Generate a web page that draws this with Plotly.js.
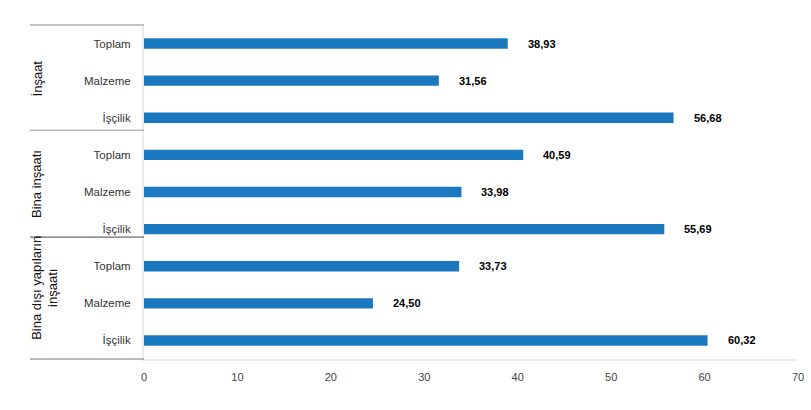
<!DOCTYPE html>
<html>
<head>
<meta charset="utf-8">
<script src="https://cdn.plot.ly/plotly-3.0.1.min.js"></script>
<style>
html,body{margin:0;padding:0;background:#fff;}
#chart{width:811px;height:410px;}
</style>
</head>
<body>
<div id="chart"></div>
<script>
// Data
const groups = ["İnşaat", "Bina inşaatı", "Bina dışı yapıların<br>inşaatı"];
const items = ["Toplam", "Malzeme", "İşçilik"];
const values = [
  [38.93, 31.56, 56.68],
  [40.59, 33.98, 55.69],
  [33.73, 24.50, 60.32]
];
const xTicks = [0, 10, 20, 30, 40, 50, 60, 70];

// Build flat arrays
const yIdx = [], xVals = [], yLabels = [];
groups.forEach((g, gi) => {
  items.forEach((it, ii) => {
    yIdx.push(gi * items.length + ii);
    xVals.push(values[gi][ii]);
    yLabels.push(it);
  });
});
const fmt = v => v.toFixed(2).replace('.', ',');

const trace = {
  type: 'bar',
  orientation: 'h',
  x: xVals,
  y: yIdx,
  width: 0.28,
  marker: {color: '#1a78be', line: {width: 0}},
  hoverinfo: 'x+text',
  hovertext: yLabels
};

const annotations = xVals.map((v, i) => ({
  x: v, y: yIdx[i], xref: 'x', yref: 'y',
  text: fmt(v), showarrow: false, xanchor: 'left', yanchor: 'middle', xshift: 18,
  font: {family: 'Liberation Sans, Arial, sans-serif', size: 11, color: '#000', weight: 'bold'}
}));

// group separators (paper coords) and rotated group labels
const dividers = [1, 0.685, 0.365, 0];
const divColors = ['#888', '#999', '#444', '#777'];
const shapes = dividers.map((d, i) => ({
  type: 'line', xref: 'paper', yref: 'paper',
  x0: -0.1743, x1: 0, y0: d, y1: d,
  line: {color: divColors[i], width: 1}
}));
const groupY = [0.84, 0.524, 0.213];
const lineX = [-0.1636, -0.139];
groups.forEach((g, gi) => {
  const lines = g.split('<br>');
  lines.forEach((ln, li) => {
    annotations.push({
      xref: 'paper', yref: 'paper',
      x: lineX[li], y: groupY[gi],
      text: ln, textangle: -90, showarrow: false,
      xanchor: 'center', yanchor: 'middle',
      font: {family: 'Liberation Sans, Arial, sans-serif', size: 13, color: '#111'}
    });
  });
});

const layout = {
  width: 811, height: 410,
  margin: {l: 144, r: 13, t: 25, b: 51},
  paper_bgcolor: '#fff', plot_bgcolor: '#fff',
  showlegend: false,
  separators: ',.',
  xaxis: {
    range: [0, 70], tickvals: xTicks, ticktext: xTicks.map(String),
    showgrid: false, zeroline: false,
    showline: true, linecolor: '#ebebeb', linewidth: 2,
    ticks: '', ticklabelstandoff: 7,
    tickfont: {family: 'Liberation Sans, Arial, sans-serif', size: 11, color: '#444'}
  },
  yaxis: {
    range: [yIdx.length - 0.5, -0.5],
    tickvals: yIdx, ticktext: yLabels,
    showgrid: false, zeroline: false,
    showline: true, linecolor: '#ebebeb', linewidth: 2,
    ticks: '', ticklabelstandoff: 9,
    tickfont: {family: 'Liberation Sans, Arial, sans-serif', size: 11.5, color: '#333'}
  },
  shapes: shapes,
  annotations: annotations
};

Plotly.newPlot('chart', [trace], layout, {displayModeBar: false, staticPlot: true});
</script>
</body>
</html>
